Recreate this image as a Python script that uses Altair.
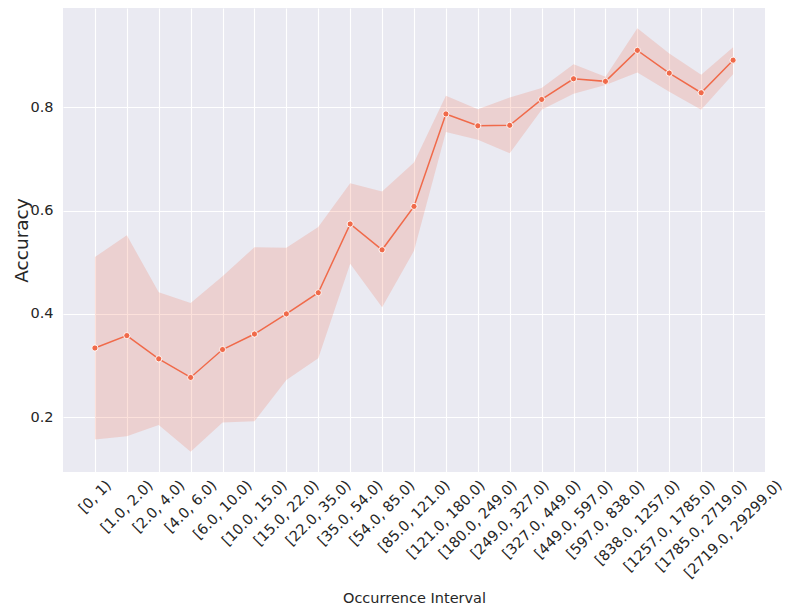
import altair as alt
import pandas as pd

intervals = ["[0, 1)", "[1.0, 2.0)", "[2.0, 4.0)", "[4.0, 6.0)", "[6.0, 10.0)",
             "[10.0, 15.0)", "[15.0, 22.0)", "[22.0, 35.0)", "[35.0, 54.0)",
             "[54.0, 85.0)", "[85.0, 121.0)", "[121.0, 180.0)", "[180.0, 249.0)",
             "[249.0, 327.0)", "[327.0, 449.0)", "[449.0, 597.0)", "[597.0, 838.0)",
             "[838.0, 1257.0)", "[1257.0, 1785.0)", "[1785.0, 2719.0)", "[2719.0, 29299.0)"]
accuracy = [0.334, 0.358, 0.313, 0.277, 0.331, 0.361, 0.400, 0.441, 0.574, 0.524, 0.608,
            0.787, 0.764, 0.765, 0.815, 0.855, 0.850, 0.910, 0.866, 0.828, 0.891]
ci_low = [0.157, 0.163, 0.185, 0.133, 0.190, 0.192, 0.272, 0.314, 0.497, 0.413, 0.522,
          0.752, 0.737, 0.711, 0.795, 0.826, 0.843, 0.867, 0.830, 0.795, 0.864]
ci_high = [0.510, 0.552, 0.442, 0.421, 0.473, 0.529, 0.528, 0.568, 0.653, 0.637, 0.693,
           0.822, 0.796, 0.819, 0.837, 0.883, 0.859, 0.953, 0.904, 0.863, 0.916]

df = pd.DataFrame({"interval": intervals, "acc": accuracy, "lo": ci_low, "hi": ci_high})

LINE = "#F06A4A"
TXT = "#262626"
FONT = "DejaVu Sans"
FS = 14.5

# distance of rotated label centre below the axis (matplotlib-like centred rotated labels)
pad_expr = (f"5 + 0.3536 * ({FS * 1.17} + {FS} * (0.636 * length(replace(datum.label, regexp('[^0-9]', 'g'), ''))"
            " + 0.318 * (length(datum.label) - length(replace(datum.label, regexp('[^0-9]', 'g'), '')) - 2)"
            " + 0.78))")

x = alt.X("interval:N", sort=intervals,
          scale=alt.Scale(type="point", padding=1),
          axis=alt.Axis(title="Occurrence Interval", labelAngle=-45,
                        labelAlign="center", labelBaseline="middle",
                        labelPadding=alt.ExprRef(pad_expr),
                        labelOverlap=False, labelBound=False, labelFlush=False,
                        labelFontSize=FS, titleFontSize=14.5,
                        titleFontWeight="normal",
                        titleX=351, titleY=130, titleBaseline="alphabetic",
                        titleAlign="center"))
yscale = alt.Scale(domain=[0.094, 0.992], nice=False, zero=False)
y = alt.Y("acc:Q", scale=yscale,
          axis=alt.Axis(title="Accuracy", values=[0.2, 0.4, 0.6, 0.8], format=".1f",
                        labelPadding=10, labelFontSize=FS, titleFontSize=18.5,
                        titleFontWeight="normal", titleAngle=270,
                        titleX=-36, titleY=232, titleBaseline="alphabetic",
                        titleAlign="center"))

band = alt.Chart(df).mark_area(color=LINE, opacity=0.2).encode(
    x=x, y=alt.Y("lo:Q", scale=yscale), y2="hi:Q")
line = alt.Chart(df).mark_line(color=LINE, strokeWidth=1.5).encode(x=x, y=y)
pts = alt.Chart(df).mark_point(filled=True, color=LINE, size=38, opacity=1,
                               stroke="white", strokeWidth=0.9).encode(x=x, y=y)

chart = (band + line + pts).properties(
    width=702, height=464,
    autosize=alt.AutoSizeParams(type="none"),
    padding={"left": 55, "top": 0, "right": 20, "bottom": 132},
).configure_view(fill="#EAEAF2", stroke=None).configure_axis(
    domain=False, ticks=False, tickSize=0, grid=True, gridColor="white", gridWidth=1.1,
    labelColor=TXT, titleColor=TXT, labelFont=FONT, titleFont=FONT,
)

chart.save("out.html", embed_options={"renderer": "svg", "actions": False})
